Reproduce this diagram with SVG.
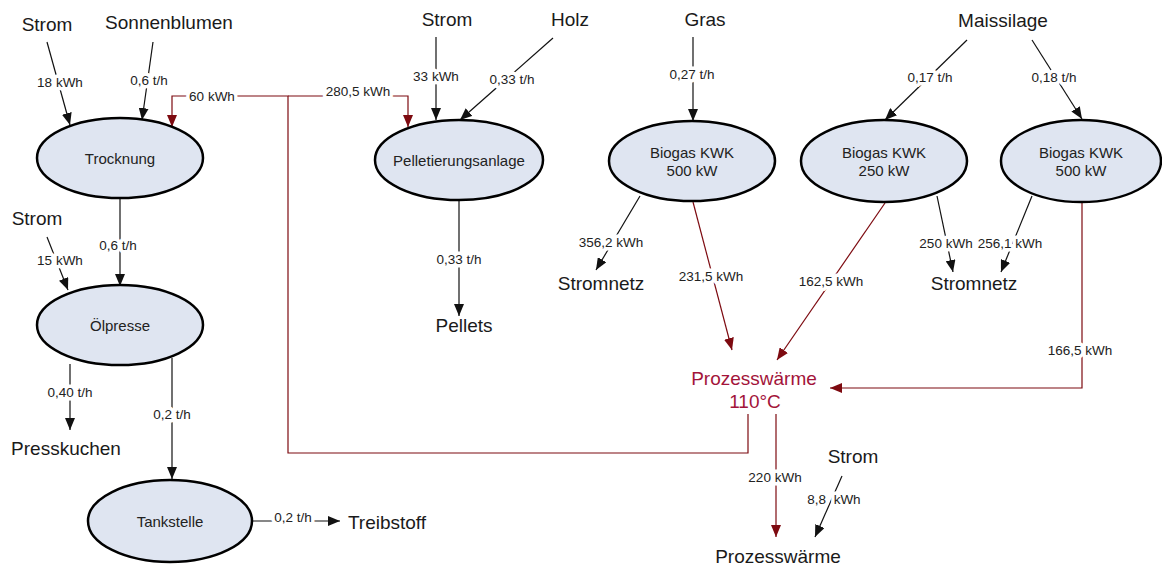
<svg xmlns="http://www.w3.org/2000/svg" width="1162" height="568" viewBox="0 0 1162 568">
<style>
.node ellipse{fill:#dfe5f1;stroke:#000;stroke-width:2.5}
.nt{font-family:"Liberation Sans",Arial,sans-serif;font-size:15px;fill:#222;text-anchor:middle}
.big{font-family:"Liberation Sans",Arial,sans-serif;font-size:19px;fill:#1a1a1a;text-anchor:middle}
.lbl{font-family:"Liberation Sans",Arial,sans-serif;font-size:13.5px;fill:#222;text-anchor:middle;stroke:#fff;stroke-width:7;paint-order:stroke;stroke-linejoin:round}
.k{fill:none;stroke:#111;stroke-width:1.2;marker-end:url(#ak)}
.r{fill:none;stroke:#7d0a10;stroke-width:1.2;marker-end:url(#ar)}
.pw{font-family:"Liberation Sans",Arial,sans-serif;font-size:19px;fill:#a3143a;text-anchor:middle}
</style>
<defs>
<marker id="ak" viewBox="0 0 12 10" refX="12" refY="5" markerWidth="12" markerHeight="10" markerUnits="userSpaceOnUse" orient="auto"><path d="M0,0 L12,5 L0,10 z" fill="#111"/></marker>
<marker id="ar" viewBox="0 0 12 10" refX="12" refY="5" markerWidth="12" markerHeight="10" markerUnits="userSpaceOnUse" orient="auto"><path d="M0,0 L12,5 L0,10 z" fill="#7d0a10"/></marker>
</defs>
<rect width="1162" height="568" fill="#fff"/>

<g id="connectors">
<path class="k" d="M47,42 L70,125"/>
<path class="k" d="M153,42 L142,120"/>
<path class="k" d="M120,198 L120,286"/>
<path class="k" d="M47,237 L68,290"/>
<path class="k" d="M70,364 L70,430"/>
<path class="k" d="M172,358 L172,479"/>
<path class="k" d="M252,521 L340,521"/>
<path class="k" d="M436,37 L436,120"/>
<path class="k" d="M553,38 L460,120"/>
<path class="k" d="M459,200 L459,316"/>
<path class="k" d="M693,37 L693,121"/>
<path class="k" d="M640,196 L596,270"/>
<path class="k" d="M967,40 L885,120"/>
<path class="k" d="M1032,40 L1082,119"/>
<path class="k" d="M937,196 L953,272"/>
<path class="k" d="M1032,196 L1001,272"/>
<path class="k" d="M842,476 L815,537"/>
<path class="r" d="M693,202 L732,350"/>
<path class="r" d="M885,203 L777,360"/>
<path class="r" d="M1082,202 L1082,388 L830,388"/>
<path class="r" d="M748,414 L748,453 L288,453 L288,96 L172,96 L172,127"/>
<path class="r" d="M288,96 L408,96 L408,127"/>
<path class="r" d="M776,414 L776,537"/>
<text class="lbl" x="60" y="87">18 kWh</text>
<text class="lbl" x="149" y="85">0,6 t/h</text>
<text class="lbl" x="212" y="101">60 kWh</text>
<text class="lbl" x="358" y="96">280,5 kWh</text>
<text class="lbl" x="118" y="250">0,6 t/h</text>
<text class="lbl" x="60" y="265">15 kWh</text>
<text class="lbl" x="70" y="397">0,40 t/h</text>
<text class="lbl" x="172" y="419">0,2 t/h</text>
<text class="lbl" x="293" y="522">0,2 t/h</text>
<text class="lbl" x="436" y="81">33 kWh</text>
<text class="lbl" x="512" y="84">0,33 t/h</text>
<text class="lbl" x="459" y="264">0,33 t/h</text>
<text class="lbl" x="692" y="79">0,27 t/h</text>
<text class="lbl" x="611" y="247">356,2 kWh</text>
<text class="lbl" x="711" y="281">231,5 kWh</text>
<text class="lbl" x="831" y="286">162,5 kWh</text>
<text class="lbl" x="930" y="82">0,17 t/h</text>
<text class="lbl" x="1054" y="82">0,18 t/h</text>
<text class="lbl" x="946" y="248">250 kWh</text>
<text class="lbl" x="1010" y="248">256,1 kWh</text>
<text class="lbl" x="1080" y="355">166,5 kWh</text>
<text class="lbl" x="775" y="482">220 kWh</text>
<text class="lbl" x="834" y="504" xml:space="preserve">8,8  kWh</text>
</g>

<g id="n-trocknung" class="node"><ellipse cx="120" cy="158" rx="83" ry="40"/><text class="nt" x="120" y="164">Trocknung</text></g>
<g id="n-oelpresse" class="node"><ellipse cx="120" cy="325" rx="83" ry="40"/><text class="nt" x="120" y="331">Ölpresse</text></g>
<g id="n-tankstelle" class="node"><ellipse cx="170" cy="521" rx="82" ry="41"/><text class="nt" x="170" y="527">Tankstelle</text></g>
<g id="n-pellet" class="node"><ellipse cx="459" cy="160" rx="84" ry="40"/><text class="nt" x="459" y="166">Pelletierungsanlage</text></g>
<g id="n-biogas1" class="node"><ellipse cx="692" cy="161" rx="83" ry="40"/><text class="nt" x="692" y="158">Biogas KWK</text><text class="nt" x="692" y="176">500 kW</text></g>
<g id="n-biogas2" class="node"><ellipse cx="884" cy="161" rx="83" ry="41"/><text class="nt" x="884" y="158">Biogas KWK</text><text class="nt" x="884" y="176">250 kW</text></g>
<g id="n-biogas3" class="node"><ellipse cx="1081" cy="161" rx="80" ry="41"/><text class="nt" x="1081" y="158">Biogas KWK</text><text class="nt" x="1081" y="176">500 kW</text></g>

<g id="t-strom1"><text class="big" x="47" y="31">Strom</text></g>
<g id="t-sonnen"><text class="big" x="169" y="29">Sonnenblumen</text></g>
<g id="t-strom2"><text class="big" x="37" y="225">Strom</text></g>
<g id="t-press"><text class="big" x="66" y="455">Presskuchen</text></g>
<g id="t-treib"><text class="big" x="387" y="529">Treibstoff</text></g>
<g id="t-strom3"><text class="big" x="447" y="26">Strom</text></g>
<g id="t-holz"><text class="big" x="570" y="26">Holz</text></g>
<g id="t-pellets"><text class="big" x="464" y="332">Pellets</text></g>
<g id="t-gras"><text class="big" x="705" y="26">Gras</text></g>
<g id="t-mais"><text class="big" x="1003" y="27">Maissilage</text></g>
<g id="t-netz1"><text class="big" x="601" y="290">Stromnetz</text></g>
<g id="t-netz2"><text class="big" x="974" y="290">Stromnetz</text></g>
<g id="t-pw110"><text class="pw" x="754" y="385">Prozesswärme</text><text class="pw" x="755" y="408">110°C</text></g>
<g id="t-strom4"><text class="big" x="853" y="463">Strom</text></g>
<g id="t-pw"><text class="big" x="778" y="563">Prozesswärme</text></g>
</svg>
